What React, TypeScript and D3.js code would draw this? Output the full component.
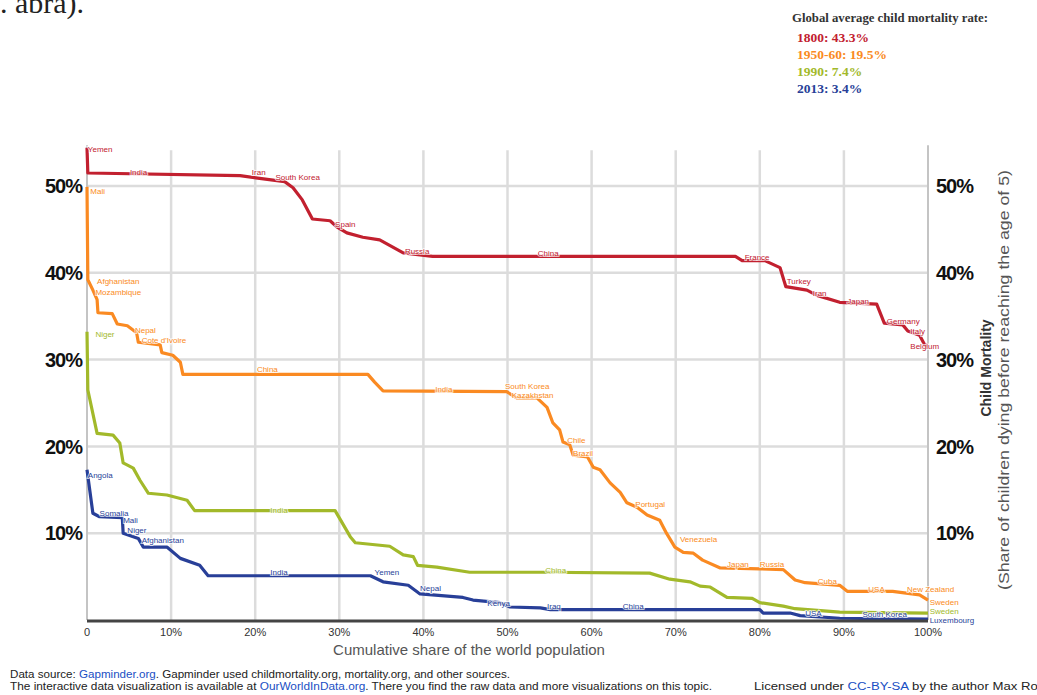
import React from 'react';
import * as d3 from 'd3';

// [cumulative share of world population %, child mortality %]
const mortality1800: [number, number][] = [
  [0, 54.4], [0.1, 51.5], [18.2, 51.2], [20.3, 50.9], [23.5, 50.5], [24.5, 49.8], [25.6, 48.4],
  [26.8, 46.2], [28.9, 46.0], [29.7, 45.3], [30.9, 44.6], [32.8, 44.1], [34.8, 43.8], [37.6, 42.3],
  [41.1, 41.9], [77.1, 41.9], [77.9, 41.4], [80.6, 41.4], [82.4, 40.6], [83.1, 38.4], [85.6, 38.0],
  [86.8, 37.4], [89.5, 36.6], [93.9, 36.4], [94.8, 34.2], [97.0, 34.0], [97.6, 33.3], [99.0, 32.8],
  [99.6, 31.7], [100, 31.7],
];
const mortality1950: [number, number][] = [
  [0, 49.9], [0.1, 39.2], [0.7, 38.0], [1.2, 36.9], [1.3, 35.4], [3.0, 35.3], [3.6, 34.1], [4.8, 33.9],
  [5.9, 33.1], [6.1, 32.0], [8.7, 31.7], [8.9, 30.8], [10.2, 30.5], [11.1, 29.7], [11.4, 28.3],
  [33.4, 28.3], [34.2, 27.4], [35.2, 26.4], [49.9, 26.3], [51.1, 25.6], [53.5, 25.6], [54.7, 24.5],
  [55.4, 22.7], [56.2, 21.9], [56.6, 20.5], [57.4, 20.2], [57.8, 19.0], [59.5, 18.8], [60.2, 17.6],
  [61.0, 17.3], [62.2, 15.8], [63.4, 14.7], [64.2, 13.5], [65.4, 13.0], [66.6, 12.1], [68.1, 11.5],
  [68.9, 10.0], [69.9, 8.4], [70.9, 7.8], [72.1, 7.7], [73.2, 6.9], [75.3, 6.0], [80.0, 5.9],
  [82.8, 5.8], [84.2, 4.6], [85.4, 4.3], [89.5, 4.0], [90.4, 3.3], [95.8, 3.3], [99.0, 2.9], [100, 2.3],
];
const mortality1990: [number, number][] = [
  [0, 33.2], [0.1, 26.5], [1.2, 21.5], [3.1, 21.3], [3.9, 20.4], [4.3, 18.1], [5.5, 17.5], [6.3, 16.1],
  [7.3, 14.6], [9.5, 14.4], [11.9, 13.8], [12.8, 12.6], [29.5, 12.6], [31.3, 9.6], [31.9, 8.9],
  [36.0, 8.5], [37.6, 7.5], [38.8, 7.3], [39.3, 6.3], [41.6, 6.1], [45.5, 5.5], [54.2, 5.5], [66.9, 5.4],
  [69.3, 4.7], [71.7, 4.4], [72.9, 3.9], [74.1, 3.8], [76.1, 2.6], [79.1, 2.5], [80.0, 2.0], [82.8, 1.6],
  [84.2, 1.3], [89.5, 0.9], [100, 0.8],
];
const mortality2013: [number, number][] = [
  [0, 17.3], [0.7, 12.3], [1.5, 11.9], [4.2, 11.8], [4.3, 10.0], [6.1, 9.4], [6.7, 8.4], [9.5, 8.4],
  [11.1, 7.1], [13.4, 6.3], [14.4, 5.1], [33.7, 5.1], [35.2, 4.4], [38.2, 4.0], [39.6, 3.0], [44.7, 2.6],
  [45.9, 2.3], [49.1, 2.0], [50.3, 1.5], [53.9, 1.4], [55.1, 1.2], [80.0, 1.2], [80.4, 0.8], [83.6, 0.8],
  [84.8, 0.5], [89.5, 0.2], [100, 0.1],
];

// country labels: [share %, mortality %, name]
const labels1800: [number, number, string][] = [
  [0.1, 54.2, 'Yemen'], [5.1, 51.6, 'India'], [19.6, 51.6, 'Iran'], [22.4, 51.0, 'South Korea'],
  [29.5, 45.6, 'Spain'], [37.8, 42.5, 'Russia'], [53.6, 42.3, 'China'], [78.2, 41.8, 'France'],
  [83.2, 39.0, 'Turkey'], [86.3, 37.6, 'Iran'], [90.4, 36.7, 'Japan'], [95.1, 34.4, 'Germany'],
  [97.9, 33.3, 'Italy'], [97.9, 31.6, 'Belgium'],
];
const labels1950: [number, number, string][] = [
  [0.4, 49.4, 'Mali'], [1.2, 39.0, 'Afghanistan'], [1.0, 37.8, 'Mozambique'], [5.7, 33.4, 'Nepal'],
  [6.5, 32.2, "Cote d'Ivoire"], [20.2, 28.9, 'China'], [41.4, 26.6, 'India'], [49.7, 26.9, 'South Korea'],
  [50.5, 25.9, 'Kazakhstan'], [57.1, 20.7, 'Chile'], [57.8, 19.2, 'Brazil'], [65.2, 13.3, 'Portugal'],
  [70.5, 9.3, 'Venezuela'], [76.1, 6.4, 'Japan'], [80.0, 6.4, 'Russia'], [86.9, 4.5, 'Cuba'],
  [92.9, 3.6, 'USA'], [97.5, 3.5, 'New Zealand'], [100.2, 2.1, 'Sweden'],
];
const labels1990: [number, number, string][] = [
  [1.0, 32.9, 'Niger'], [21.8, 12.7, 'India'], [54.5, 5.7, 'China'], [100.2, 1.0, 'Sweden'],
];
const labels2013: [number, number, string][] = [
  [0.1, 16.7, 'Angola'], [1.5, 12.3, 'Somalia'], [4.3, 11.5, 'Mali'], [4.8, 10.4, 'Niger'],
  [6.5, 9.2, 'Afghanistan'], [21.8, 5.5, 'India'], [34.2, 5.5, 'Yemen'], [39.6, 3.7, 'Nepal'],
  [47.6, 1.9, 'Kenya'], [54.7, 1.6, 'Iraq'], [63.7, 1.6, 'China'], [85.4, 0.8, 'USA'],
  [92.2, 0.7, 'South Korea'], [100.2, 0.0, 'Luxembourg'],
];

const legendTitle = 'Global average child mortality rate:';
const legendItems = ['1800: 43.3%', '1950-60: 19.5%', '1990: 7.4%', '2013: 3.4%'];
const xTicks = [0, 10, 20, 30, 40, 50, 60, 70, 80, 90, 100];
const yTicks = [10, 20, 30, 40, 50];

const RED = '#c2202f';
const ORANGE = '#fa8a22';
const GREEN = '#a2b92a';
const BLUE = '#283f98';

const series = [
  { data: mortality1800, labels: labels1800, color: RED },
  { data: mortality1950, labels: labels1950, color: ORANGE },
  { data: mortality1990, labels: labels1990, color: GREEN },
  { data: mortality2013, labels: labels2013, color: BLUE },
];
const legendColors = [RED, ORANGE, GREEN, BLUE];

const W = 1037;
const H = 695;

export default function App() {
  const x = d3.scaleLinear().domain([0, 100]).range([87, 928]);
  const y = d3.scaleLinear().domain([0, 50]).range([620, 186]);
  const yTop = y(54.7);
  const line = d3.line<[number, number]>().x(d => x(d[0])).y(d => y(d[1]));
  const sans = 'Liberation Sans, Arial, sans-serif';
  const serif = 'Liberation Serif, Times New Roman, serif';

  return (
    <svg width={W} height={H} style={{ position: 'absolute', left: 0, top: 0, background: '#fff' }}>
      <text x={0} y={13} fontFamily={serif} fontSize={30} fill="#222">. abra).</text>

      {/* legend */}
      <text x={792} y={22} fontFamily={serif} fontSize={12} fontWeight="bold" fill="#333"
        textLength={196} lengthAdjust="spacingAndGlyphs">{legendTitle}</text>
      {legendItems.map((t, i) => (
        <text key={t} x={797} y={42 + i * 17} fontFamily={serif} fontSize={13.5} fontWeight="bold" fill={legendColors[i]}>{t}</text>
      ))}

      {/* grid */}
      {yTicks.map(t => (
        <line key={'h' + t} x1={x(0)} x2={x(100)} y1={y(t)} y2={y(t)} stroke="#dcdcdc" strokeWidth={2.5} />
      ))}
      {xTicks.filter(t => t > 0 && t < 100).map(t => (
        <line key={'v' + t} x1={x(t)} x2={x(t)} y1={yTop + 5} y2={y(0)} stroke="#dcdcdc" strokeWidth={2.5} />
      ))}
      <line x1={x(0)} x2={x(0)} y1={yTop} y2={y(0)} stroke="#c4c4c4" strokeWidth={2} />
      <line x1={x(100)} x2={x(100)} y1={yTop} y2={y(0)} stroke="#c4c4c4" strokeWidth={2} />

      {/* series */}
      {series.map((s, i) => (
        <path key={i} d={line(s.data) || ''} fill="none" stroke={s.color} strokeWidth={3.2} strokeLinejoin="round" />
      ))}
      {series.map((s, i) => (
        <g key={'l' + i}>
          {s.labels.map((l, j) => (
            <text key={j} x={x(l[0])} y={y(l[1])} dy="0.35em" fontFamily={sans} fontSize={8} fill={s.color}
              stroke="#fff" strokeWidth={2} strokeOpacity={0.7} paintOrder="stroke">{l[2]}</text>
          ))}
        </g>
      ))}

      <line x1={x(0)} x2={x(100)} y1={y(0) + 1} y2={y(0) + 1} stroke="#444" strokeWidth={3} />

      {/* y tick labels */}
      {yTicks.map(t => (
        <g key={'yt' + t}>
          <text x={82} y={y(t)} dy="0.36em" textAnchor="end" fontFamily={sans} fontSize={20} fontWeight="bold" fill="#111" letterSpacing={-1}>{t}%</text>
          <text x={936} y={y(t)} dy="0.36em" fontFamily={sans} fontSize={20} fontWeight="bold" fill="#111" letterSpacing={-1}>{t}%</text>
        </g>
      ))}
      {/* x tick labels */}
      {xTicks.map(t => (
        <text key={'xt' + t} x={x(t)} y={636} textAnchor="middle" fontFamily={sans} fontSize={11} fill="#333">{t === 0 ? '0' : t + '%'}</text>
      ))}
      <text x={469} y={655} textAnchor="middle" fontFamily={sans} fontSize={15} fill="#555">Cumulative share of the world population</text>

      {/* right axis title */}
      <text transform="translate(991,368) rotate(-90)" textAnchor="middle" fontFamily={sans} fontSize={14} fontWeight="bold" fill="#333">Child Mortality</text>
      <text transform="translate(1009,380) rotate(-90)" textAnchor="middle" fontFamily={sans} fontSize={14.5} fill="#555"
        textLength={420} lengthAdjust="spacingAndGlyphs">(Share of children dying before reaching the age of 5)</text>

      {/* footer */}
      <text x={10} y={678} fontFamily={sans} fontSize={10} fill="#222" textLength={500} lengthAdjust="spacingAndGlyphs">
        Data source: <tspan fill="#1a4fc4">Gapminder.org</tspan>. Gapminder used childmortality.org, mortality.org, and other sources.
      </text>
      <text x={10} y={690} fontFamily={sans} fontSize={10} fill="#222" textLength={702} lengthAdjust="spacingAndGlyphs">
        The interactive data visualization is available at <tspan fill="#1a4fc4">OurWorldInData.org</tspan>. There you find the raw data and more visualizations on this topic.
      </text>
      <text x={754} y={690} fontFamily={sans} fontSize={10} fill="#222" textLength={302} lengthAdjust="spacingAndGlyphs">
        Licensed under <tspan fill="#1a4fc4">CC-BY-SA</tspan> by the author Max Roser
      </text>
    </svg>
  );
}
